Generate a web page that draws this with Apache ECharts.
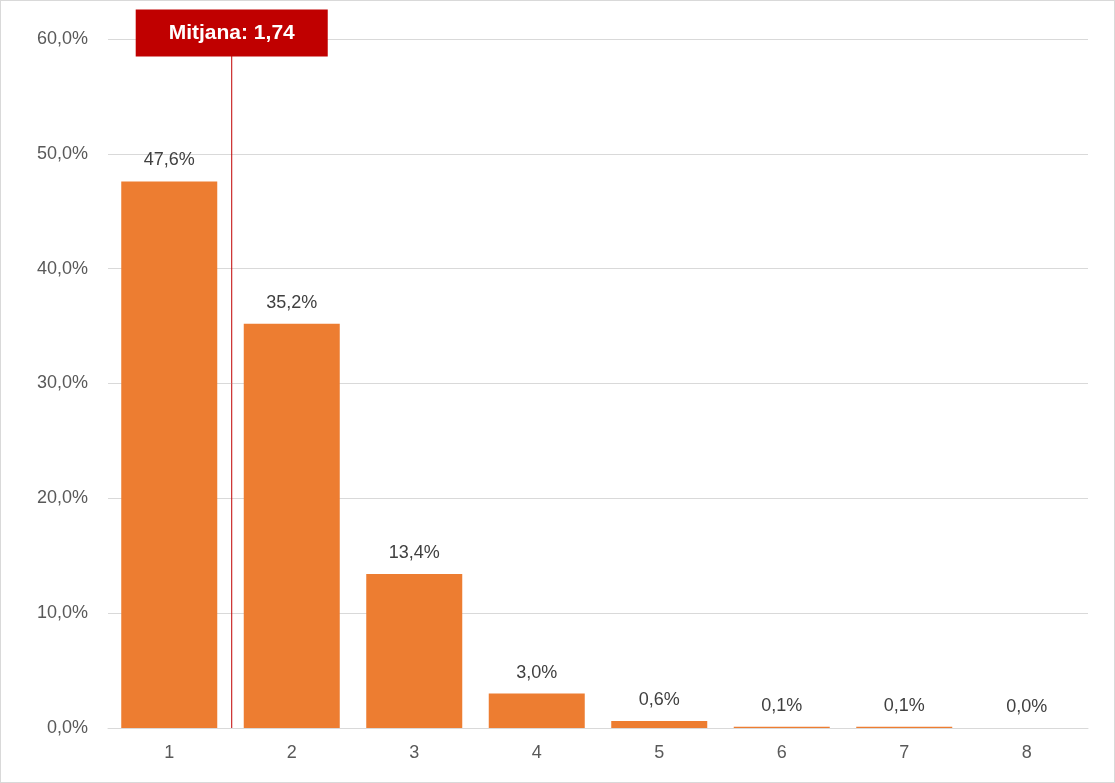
<!DOCTYPE html>
<html>
<head>
<meta charset="utf-8">
<script src="https://cdn.jsdelivr.net/npm/echarts@6/dist/echarts.min.js"></script>
<style>
  html, body { margin: 0; padding: 0; background: #fff; }
  #chart { width: 1113px; height: 781px; border: 1px solid #d9d9d9; }
</style>
</head>
<body>
<div id="chart"></div>
<script>
const categories = ['1', '2', '3', '4', '5', '6', '7', '8'];
const values = [47.6, 35.2, 13.4, 3.0, 0.6, 0.1, 0.1, 0.0];
const yTicks = [0, 10, 20, 30, 40, 50, 60];
const meanLabel = 'Mitjana: 1,74';
const meanPos = 1.51; // where the red line sits on the category axis in the picture

const fmt = v => v.toFixed(1).replace('.', ',') + '%';
const font = 'Liberation Sans, Arial, sans-serif';

let myChart = echarts.init(document.getElementById('chart'));
myChart.setOption({
  animation: false,
  grid: { left: 107, right: 26, top: 38, bottom: 54 },
  xAxis: [
    {
      type: 'category',
      data: categories,
      axisTick: { show: false },
      axisLine: { lineStyle: { color: '#d9d9d9' } },
      axisLabel: { color: '#595959', fontSize: 18, fontFamily: font, margin: 16 }
    },
    { type: 'value', min: 0.5, max: 8.5, show: false }
  ],
  yAxis: {
    type: 'value', min: yTicks[0], max: yTicks[yTicks.length - 1], interval: 10,
    axisLabel: { color: '#595959', fontSize: 18, fontFamily: font, formatter: fmt, margin: 20 },
    splitLine: { lineStyle: { color: '#d9d9d9' } },
    axisLine: { show: false }, axisTick: { show: false }
  },
  series: [
    {
      type: 'bar',
      data: values,
      barWidth: 96,
      itemStyle: { color: '#ed7d31' },
      label: {
        show: true, position: 'top', distance: 12, formatter: p => fmt(p.value),
        color: '#404040', fontSize: 18, fontFamily: font
      }
    },
    {
      type: 'line',
      xAxisIndex: 1,
      symbol: 'none',
      lineStyle: { color: '#c00000', width: 1 },
      data: [[meanPos, 0], [meanPos, 60]],
      z: 5
    },
    {
      type: 'scatter',
      xAxisIndex: 1,
      symbolSize: 0,
      itemStyle: { color: '#c00000', opacity: 1 },
      data: [[meanPos, 60]],
      label: {
        show: true, position: 'inside', offset: [0, -6], formatter: meanLabel,
        backgroundColor: '#c00000', color: '#ffffff', fontWeight: 'bold',
        fontSize: 21, fontFamily: font, padding: [13, 33, 13, 33], opacity: 1
      },
      z: 6
    }
  ]
});
</script>
</body>
</html>
